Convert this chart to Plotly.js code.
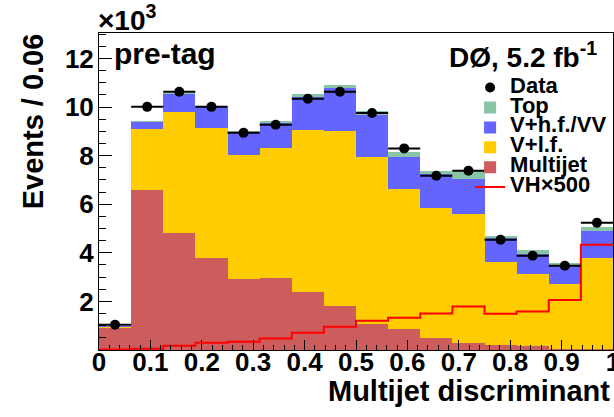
<!DOCTYPE html>
<html>
<head>
<meta charset="utf-8">
<script src="https://cdn.plot.ly/plotly-3.0.1.min.js"></script>
<style>
html,body{margin:0;padding:0;background:#fff;}
#chart{width:614px;height:417px;}
</style>
</head>
<body>
<div id="chart"></div>
<script>
// Bin edges (low edge of each bin), width 0.0625
var binLow = [0, 0.0625, 0.125, 0.1875, 0.25, 0.3125, 0.375, 0.4375, 0.5, 0.5625, 0.625, 0.6875, 0.75, 0.8125, 0.875, 0.9375];
var binWidth = 0.0625;
var xMax = 1.0;

// Values in units of 10^3 events
var multijet = [0.92, 6.60, 4.83, 3.80, 2.93, 2.97, 2.40, 1.80, 1.05, 0.88, 0.50, 0.27, 0.22, 0.15, 0.06, 0.04];
var vlf      = [0.04, 2.51, 4.98, 5.35, 5.11, 5.36, 6.66, 7.23, 6.90, 5.75, 5.35, 5.34, 3.41, 2.99, 2.67, 3.76];
var vhf      = [0.01, 0.28, 0.74, 0.85, 0.94, 1.02, 1.37, 1.76, 1.73, 1.33, 1.41, 1.44, 0.99, 0.82, 0.78, 1.11];
var topQuark = [0.00, 0.03, 0.03, 0.03, 0.02, 0.08, 0.12, 0.11, 0.17, 0.20, 0.12, 0.37, 0.08, 0.17, 0.08, 0.16];
var dataVals = [1.04, 10.01, 10.63, 10.01, 8.94, 9.27, 10.34, 10.63, 9.76, 8.30, 7.17, 7.38, 4.54, 3.88, 3.47, 5.24];
var vh500    = [0.02, 0.05, 0.18, 0.30, 0.34, 0.47, 0.71, 0.96, 1.20, 1.33, 1.50, 1.79, 1.49, 1.59, 2.06, 4.33];

var yTickVals = [2, 4, 6, 8, 10, 12];
var legendNames = ['Data', 'Top', 'V+h.f./VV', 'V+l.f.', 'Multijet', 'VH\u00d7500'];

var centers = binLow.map(function(l){ return l + binWidth/2; });
var stepX = binLow.concat([xMax]);
var stepY = vh500.concat([vh500[vh500.length-1]]);

var FONT = 'Liberation Sans, Arial, Helvetica, sans-serif';
function lg(name){ return '<span style="font-size:22px;font-weight:bold">' + name + '</span>'; }

function barTrace(name, vals, color, rank){
  return {
    type: 'bar', name: lg(name), x: centers, y: vals, width: binWidth,
    marker: {color: color, line: {width: 0}},
    legendrank: rank, hoverinfo: 'skip'
  };
}

var traces = [
  barTrace(legendNames[4], multijet, '#cd5c5c', 5),
  barTrace(legendNames[3], vlf, '#ffcc00', 4),
  barTrace(legendNames[2], vhf, '#6464ff', 3),
  barTrace(legendNames[1], topQuark, '#88c4a6', 2),
  {
    type: 'scatter', mode: 'lines', name: lg(legendNames[5]),
    x: stepX, y: stepY, line: {shape: 'hv', color: '#ff0000', width: 2},
    legendrank: 6, hoverinfo: 'skip'
  },
  {
    type: 'scatter', mode: 'markers', name: lg(legendNames[0]),
    x: centers, y: dataVals,
    marker: {color: '#000', size: 10},
    error_x: {type: 'constant', value: binWidth/2, thickness: 2, width: 0, color: '#000'},
    legendrank: 1, hoverinfo: 'skip'
  }
];

var layout = {
  width: 614, height: 417,
  margin: {l: 99, r: 1, t: 33, b: 67},
  paper_bgcolor: '#fff', plot_bgcolor: '#fff',
  barmode: 'stack', bargap: 0,
  showlegend: true,
  font: {family: FONT, color: '#000'},
  legend: {
    x: 0.722, y: 0.875, xanchor: 'left', yanchor: 'top',
    bgcolor: 'rgba(0,0,0,0)', borderwidth: 0,
    font: {family: FONT, size: 13, color: '#000'},
    traceorder: 'normal', itemwidth: 30, tracegroupgap: 0
  },
  xaxis: {
    range: [0, 1], showgrid: false, zeroline: false,
    showline: true, mirror: true, linecolor: '#000', linewidth: 1,
    ticks: 'inside', ticklen: 10, tickwidth: 1, tickcolor: '#000',
    tickmode: 'linear', tick0: 0, dtick: 0.1,
    ticklabeloverflow: 'allow', ticklabelstandoff: -11,
    minor: {ticks: 'inside', ticklen: 5, dtick: 0.02, tick0: 0, tickcolor: '#000'},
    tickfont: {family: FONT, size: 26, weight: 'bold', color: '#000'}
  },
  yaxis: {
    range: [0, 13.05], showgrid: false, zeroline: false,
    showline: true, mirror: true, linecolor: '#000', linewidth: 1,
    ticks: 'inside', ticklen: 13, tickwidth: 1, tickcolor: '#000',
    tickmode: 'array', tickvals: yTickVals, ticktext: yTickVals.map(String),
    ticklabelstandoff: -1,
    minor: {ticks: 'inside', ticklen: 7, dtick: 0.5, tick0: 0, tickcolor: '#000'},
    tickfont: {family: FONT, size: 26, weight: 'bold', color: '#000'}
  },
  annotations: [
    {xref: 'paper', yref: 'paper', x: -0.006, y: 0.984, xanchor: 'left', yanchor: 'bottom',
     text: '<b>\u00d710<sup>3</sup></b>', showarrow: false, font: {size: 28, family: FONT}},
    {xref: 'paper', yref: 'paper', x: 0.025, y: 0.995, xanchor: 'left', yanchor: 'top',
     text: '<b>pre-tag</b>', showarrow: false, font: {size: 30, family: FONT}},
    {xref: 'paper', yref: 'paper', x: 0.972, y: 0.995, xanchor: 'right', yanchor: 'top',
     text: '<b>D\u00d8, 5.2 fb<sup>-1</sup></b>', showarrow: false, font: {size: 28, family: FONT}},
    {xref: 'paper', yref: 'paper', x: -0.128, y: 0.722, xanchor: 'center', yanchor: 'middle',
     text: '<b>Events / 0.06</b>', textangle: -90, showarrow: false, font: {size: 29, family: FONT}},
    {xref: 'paper', yref: 'paper', x: 0.998, y: -0.072, xanchor: 'right', yanchor: 'top',
     text: '<b>Multijet discriminant</b>', showarrow: false, font: {size: 29, family: FONT}}
  ]
};

Plotly.newPlot('chart', traces, layout, {staticPlot: true, displayModeBar: false});
</script>
</body>
</html>
